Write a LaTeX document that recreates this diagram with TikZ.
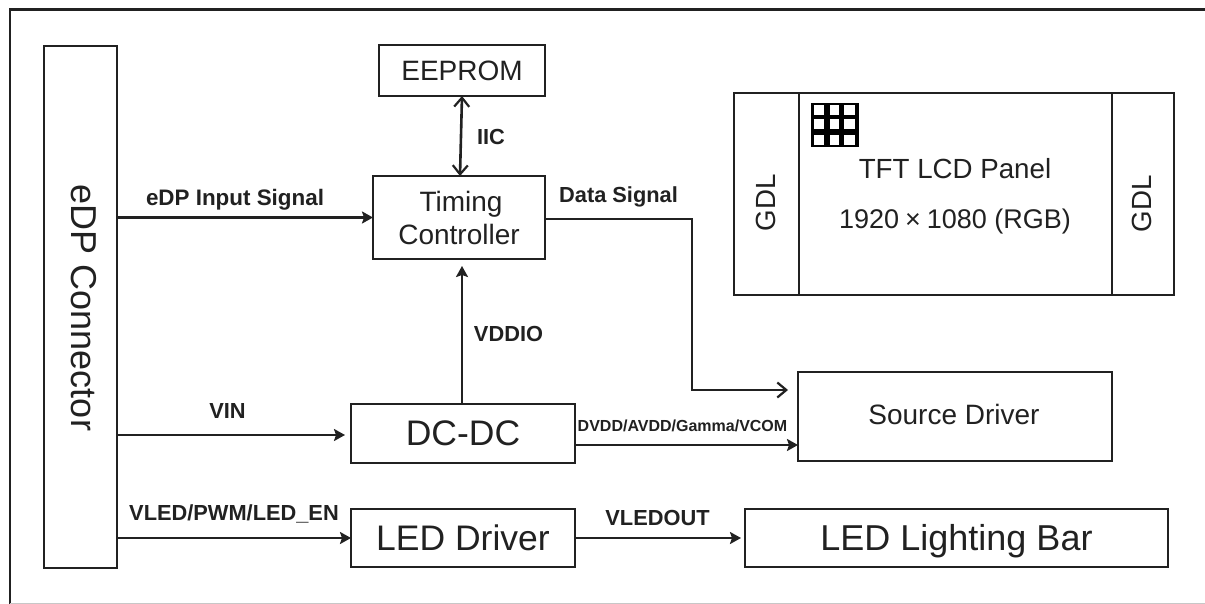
\documentclass[tikz,border=0pt]{standalone}
\usepackage{fontspec}
\setmainfont{Liberation Sans}
\usetikzlibrary{arrows.meta}
\definecolor{ink}{gray}{0.13}
\newcommand{\fsz}[1]{\fontsize{#1}{#1}\selectfont}
\tikzset{
  x=1pt,y=-1pt,
  boxnode/.style={draw=ink,line width=2.6pt,rectangle,inner sep=0pt,outer sep=0pt,align=center,text=ink},
  tag/.style={inner sep=0pt,outer sep=0pt,text=ink,font=\fsz{21.8}\bfseries},
  wire/.style={draw=ink,line width=2.6pt},
  solidtip/.style={-{Stealth[length=11pt,width=12pt,inset=2pt]}},
  opentip/.style={-{Straight Barb[length=9pt,width=15pt,line width=2.2pt]}},
  bothtip/.style={{Straight Barb[length=9pt,width=15pt,line width=2.2pt]}-{Straight Barb[length=9pt,width=15pt,line width=2.2pt]}},
}
\begin{document}
\begin{tikzpicture}
\useasboundingbox (0,0) rectangle (1205,604);
\fill[white] (0,0) rectangle (1205,604);
% outer frame
\draw[draw=ink,line width=2.6pt] (10,604) -- (10,9.5) -- (1205,9.5);
\draw[draw=black!22,line width=1.5pt] (10,603.3) -- (1205,603.3);
% blocks
\node[boxnode,minimum width=73pt,minimum height=522pt] (edp) at (80.5,307) {};
\node[text=ink,rotate=-90,inner sep=0pt,font=\fsz{36}] (edptext) at (84,308) {eDP Connector};
\node[boxnode,minimum width=166pt,minimum height=51pt,font=\fsz{28}] (eeprom) at (462,70.5) {EEPROM};
\node[boxnode,minimum width=172pt,minimum height=83pt,font=\fsz{28}] (timing) at (459,217.5) {};
\node[text=ink,inner sep=0pt,font=\fsz{28}] (tim1) at (461,204) {Timing};
\node[text=ink,inner sep=0pt,font=\fsz{28}] (tim2) at (459,234) {Controller};
\node[boxnode,minimum width=224pt,minimum height=59pt,font=\fsz{35.5}] (dc) at (463,433.5) {DC-DC};
\node[boxnode,minimum width=224pt,minimum height=58pt,font=\fsz{35.5}] (leddrv) at (463,538) {LED Driver};
\node[boxnode,minimum width=314pt,minimum height=89pt] (source) at (955,416.5) {};
\node[text=ink,inner sep=0pt,font=\fsz{28}] (sourcetext) at (954,414) {Source Driver};
\node[boxnode,minimum width=423pt,minimum height=58pt] (bar) at (956.5,538) {};
\node[text=ink,inner sep=0pt,font=\fsz{36}] (bartext) at (956.5,541) {LED Lighting Bar};
% panel
\node[boxnode,minimum width=65pt,minimum height=202pt] (gdla) at (766.5,194) {};
\node[boxnode,minimum width=313pt,minimum height=202pt] (panel) at (955.5,194) {};
\node[boxnode,minimum width=62pt,minimum height=202pt] (gdlb) at (1143,194) {};
\node[text=ink,rotate=90,inner sep=0pt,font=\fsz{27.7}] (gdlatext) at (766,203) {GDL};
\node[text=ink,rotate=90,inner sep=0pt,font=\fsz{27.7}] (gdlbtext) at (1142,204) {GDL};
\node[text=ink,inner sep=0pt,font=\fsz{27.7}] (paneltext) at (955,169) {TFT LCD Panel};
\node[text=ink,inner sep=0pt,font=\fsz{27}] (restext) at (955,222) {1920\hspace{6pt}×\hspace{6pt}1080 (RGB)};
% pixel grid
\fill[black] (811,103) rectangle (858.5,147);
\foreach \cx/\cw in {814/10,829.5/9.5,844/10.5}
  \foreach \cy in {105.5,119.5,135}
    \fill[white] (\cx,\cy) rectangle ++(\cw,10);
% connectors
\draw[wire,bothtip] (eeprom.south) -- ([xshift=-2pt]timing.north -| eeprom.south);
\draw[wire,solidtip] (edp.east |- timing.west) -- (timing.west);
\coordinate (bend1) at (692,219);
\coordinate (bend2) at (692,390);
\coordinate (srcin) at (788,390);
\draw[wire,opentip] (timing.east |- bend1) -- (bend1) -- (bend2) -- (srcin);
\coordinate (vddtop) at (462,266);
\draw[wire,solidtip] (dc.north -| vddtop) -- (vddtop);
\coordinate (vinend) at (345,435);
\draw[wire,solidtip] (edp.east |- vinend) -- (vinend);
\draw[wire,solidtip] (edp.east |- leddrv.west) -- (leddrv.west);
\coordinate (dvddy) at (798,445);
\draw[wire,solidtip] (dc.east |- dvddy) -- (source.west |- dvddy);
\coordinate (barin) at (741,538);
\draw[wire,solidtip] (leddrv.east) -- (barin);
% labels
\node[tag,font=\fsz{22.4}\bfseries] (l1) at (235,200) {eDP Input Signal};
\node[tag] (l2) at (618.5,197) {Data Signal};
\node[tag] (l3) at (491,137) {IIC};
\node[tag] (l4) at (508.5,334) {VDDIO};
\node[tag] (l5) at (227.5,411) {VIN};
\node[tag] (l6) at (234,514) {VLED/PWM/LED\_EN};
\node[tag] (l7) at (657.5,518) {VLEDOUT};
\node[tag,font=\fsz{16}\bfseries] (l8) at (682.5,426) {DVDD/AVDD/Gamma/VCOM};
\end{tikzpicture}
\end{document}
